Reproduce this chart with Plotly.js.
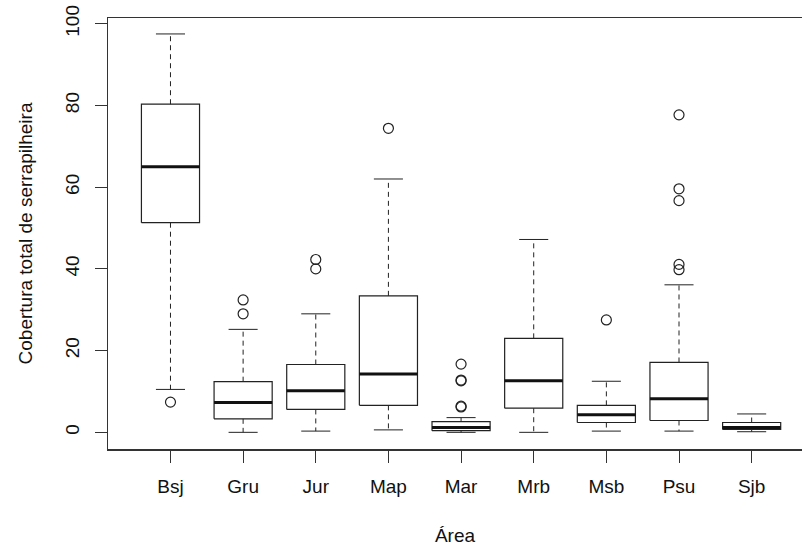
<!DOCTYPE html>
<html>
<head>
<meta charset="utf-8">
<script src="https://cdn.plot.ly/plotly-3.0.1.min.js"></script>
<style>html,body{margin:0;padding:0;background:#fff;}#chart{width:803px;height:549px;}</style>
</head>
<body>
<div id="chart"></div>
<script>
var categories = ["Bsj","Gru","Jur","Map","Mar","Mrb","Msb","Psu","Sjb"];
var lowerWhisker = [10.5, 0.0, 0.3, 0.6, 0.0, 0.0, 0.3, 0.3, 0.15];
var q1Values     = [51.3, 3.3, 5.6, 6.6, 0.4, 5.9, 2.4, 2.9, 0.7];
var medianValues = [65.0, 7.3, 10.2, 14.3, 1.2, 12.6, 4.3, 8.2, 1.2];
var q3Values     = [80.3, 12.4, 16.6, 33.4, 2.6, 23.0, 6.6, 17.1, 2.4];
var upperWhisker = [97.5, 25.2, 29.0, 62.0, 3.6, 47.2, 12.5, 36.1, 4.5];
var outlierValues = [
  [7.4],
  [32.4, 29.0],
  [42.3, 40.0],
  [74.4],
  [16.7, 12.8, 12.6, 6.4, 6.2],
  [],
  [27.5],
  [77.7, 59.6, 56.7, 41.1, 39.8],
  []
];
var yTicks = [0, 20, 40, 60, 80, 100];

var HALF = 0.4, CAP = 0.2, INK = "#222";
var bx=[],by=[],mx=[],my=[],wx=[],wy=[],cx=[],cy=[],ox=[],oy=[];
categories.forEach(function(c,i){
  var p=i+1;
  bx.push(p-HALF,p+HALF,p+HALF,p-HALF,p-HALF,null);
  by.push(q1Values[i],q1Values[i],q3Values[i],q3Values[i],q1Values[i],null);
  mx.push(p-HALF,p+HALF,null); my.push(medianValues[i],medianValues[i],null);
  wx.push(p,p,null,p,p,null);
  wy.push(q3Values[i],upperWhisker[i],null,q1Values[i],lowerWhisker[i],null);
  cx.push(p-CAP,p+CAP,null,p-CAP,p+CAP,null);
  cy.push(upperWhisker[i],upperWhisker[i],null,lowerWhisker[i],lowerWhisker[i],null);
  outlierValues[i].forEach(function(v){ox.push(p);oy.push(v);});
});

var traces = [
  {x:wx,y:wy,mode:"lines",line:{color:INK,width:1,dash:"5px,4px"},hoverinfo:"skip"},
  {x:cx,y:cy,mode:"lines",line:{color:INK,width:1},hoverinfo:"skip"},
  {x:bx,y:by,mode:"lines",line:{color:INK,width:1.2},hoverinfo:"skip"},
  {x:mx,y:my,mode:"lines",line:{color:"#111",width:3},hoverinfo:"skip"},
  {x:ox,y:oy,mode:"markers",marker:{symbol:"circle-open",size:10,color:INK,line:{width:1.2,color:INK}},hoverinfo:"skip"}
];

var FONT = {family:"Liberation Sans, Arial, sans-serif", size:19, color:"#111"};
var layout = {
  width:803, height:549,
  margin:{l:107.5, r:1, t:18, b:100, pad:0},
  paper_bgcolor:"#fff", plot_bgcolor:"#fff",
  showlegend:false,
  font:FONT,
  xaxis:{
    range:[0.14, 9.693], tickvals:categories.map(function(c,i){return i+1;}), ticktext:categories,
    showgrid:false, zeroline:false, showline:true, mirror:true, linecolor:"#333", linewidth:1.5,
    ticks:"outside", ticklen:12, tickcolor:"#333", tickwidth:1, ticklabelstandoff:8,
    tickfont:FONT,
    title:{text:"Área", font:FONT, standoff:32}
  },
  yaxis:{
    range:[-4.08, 101.4], tickvals:yTicks, ticktext:yTicks.map(String), tickangle:-90,
    showgrid:false, zeroline:false, showline:true, mirror:false, linecolor:"#333", linewidth:1.5,
    ticks:"outside", ticklen:12, tickcolor:"#333", tickwidth:1, ticklabelstandoff:8,
    tickfont:FONT,
    title:{text:"Cobertura total de serrapilheira", font:FONT, standoff:24}
  }
};
Plotly.newPlot("chart", traces, layout, {displayModeBar:false, staticPlot:true});
</script>
</body>
</html>
